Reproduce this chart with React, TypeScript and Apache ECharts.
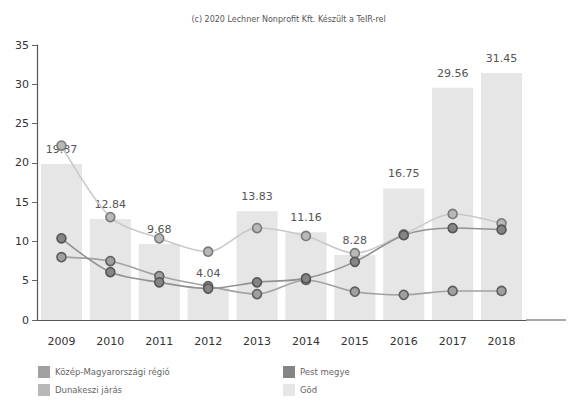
import React, { useEffect, useRef } from "react";
import * as echarts from "echarts";

const years = ["2009", "2010", "2011", "2012", "2013", "2014", "2015", "2016", "2017", "2018"];
const godValues = [19.87, 12.84, 9.68, 4.04, 13.83, 11.16, 8.28, 16.75, 29.56, 31.45];
const dunakesziValues = [22.2, 13.1, 10.4, 8.7, 11.7, 10.7, 8.5, 10.9, 13.5, 12.3];
const pestValues = [10.4, 6.1, 4.8, 4.0, 4.8, 5.3, 7.4, 10.8, 11.7, 11.5];
const kozepValues = [8.0, 7.5, 5.6, 4.3, 3.3, 5.1, 3.6, 3.2, 3.7, 3.7];

const nameKozep = "Közép-Magyarországi régió";
const namePest = "Pest megye";
const nameDuna = "Dunakeszi járás";
const nameGod = "Göd";

const font = "DejaVu Sans";

export default function App() {
  const ref = useRef<HTMLDivElement>(null);
  useEffect(() => {
    if (!ref.current) return;
    const chart = echarts.init(ref.current, undefined, { renderer: "svg" });
    const lineSeries = (name: string, data: number[], line: string, fill: string, border: string, z: number) => ({
      name,
      type: "line",
      data,
      smooth: 0.3,
      symbol: "circle",
      symbolSize: 9,
      z,
      lineStyle: { color: line, width: 1.6 },
      itemStyle: { color: fill, borderColor: border, borderWidth: 1.6 },
    });
    const legendItem = (name: string, left: number, top: number) => ({
      left,
      top,
      padding: 0,
      itemWidth: 12,
      itemHeight: 12,
      icon: "rect",
      data: [name],
      itemStyle: { borderWidth: 0 },
      textStyle: { fontSize: 8.5, color: "#666", fontFamily: font },
    });
    chart.setOption({
      animation: false,
      backgroundColor: "#ffffff",
      textStyle: { fontFamily: font },
      title: {
        text: "(c) 2020 Lechner Nonprofit Kft. Készült a TeIR-rel",
        left: "center",
        top: 10,
        textStyle: { fontSize: 8, fontWeight: "normal", color: "#555", fontFamily: font },
      },
      legend: [
        legendItem(nameKozep, 38, 366),
        legendItem(nameDuna, 38, 384),
        legendItem(namePest, 283, 366),
        legendItem(nameGod, 283, 384),
      ],
      grid: { left: 37, right: 51, top: 45, bottom: 82 },
      graphic: [
        {
          type: "line",
          shape: { x1: 526, y1: 320, x2: 566, y2: 320 },
          style: { stroke: "#555", lineWidth: 1.2 },
        },
      ],
      xAxis: {
        type: "category",
        data: years,
        axisLine: { lineStyle: { color: "#555", width: 1.2 } },
        axisTick: { alignWithLabel: true, lineStyle: { color: "#666" }, length: 5 },
        axisLabel: { color: "#333", fontSize: 11, margin: 16, fontFamily: font },
        splitLine: { show: false },
      },
      yAxis: {
        type: "value",
        min: 0,
        max: 35,
        interval: 5,
        axisLine: { show: true, lineStyle: { color: "#555", width: 1.2 } },
        axisTick: { show: true, length: 5, lineStyle: { color: "#666" } },
        axisLabel: { color: "#333", fontSize: 11, margin: 8, fontFamily: font },
        splitLine: { show: false },
      },
      series: [
        lineSeries(nameKozep, kozepValues, "#a2a2a2", "#a0a0a0", "#5e5e5e", 4),
        lineSeries(namePest, pestValues, "#929292", "#858585", "#555555", 5),
        lineSeries(nameDuna, dunakesziValues, "#c9c9c9", "#b8b8b8", "#7a7a7a", 3),
        {
          name: nameGod,
          type: "bar",
          data: godValues,
          barWidth: "84%",
          z: 1,
          itemStyle: { color: "#e6e6e6" },
          label: {
            show: true,
            position: "top",
            distance: 9,
            color: "#555",
            fontSize: 11,
            fontFamily: font,
            formatter: (p: any) => p.value.toFixed(2),
          },
        },
      ],
    });
    return () => chart.dispose();
  }, []);
  return (
    <div
      ref={ref}
      style={{ position: "absolute", left: 0, top: 0, width: 577, height: 402 }}
    />
  );
}
